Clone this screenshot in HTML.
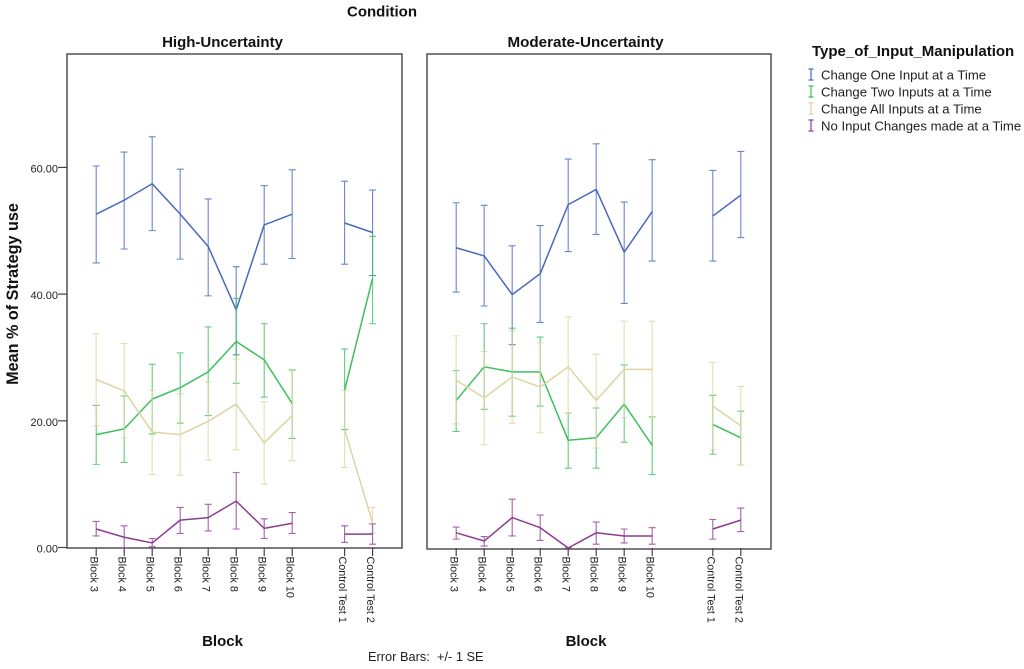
<!DOCTYPE html>
<html lang="en">
<head>
<meta charset="utf-8">
<title>Mean % of Strategy use by Block and Condition</title>
<style>
html,body{margin:0;padding:0;background:#fff;}
svg{display:block;font-family:"Liberation Sans",Arial,sans-serif;}
</style>
</head>
<body>
<svg id="chart" width="1024" height="669" viewBox="0 0 1024 669" xmlns="http://www.w3.org/2000/svg">
  <rect width="1024" height="669" fill="#fff"/>
  <text x="382" y="16.5" font-size="15" font-weight="bold" text-anchor="middle" fill="#111">Condition</text>
  <text x="222.5" y="47" font-size="15" font-weight="bold" text-anchor="middle" fill="#111">High-Uncertainty</text>
  <text x="585.5" y="47" font-size="15.2" font-weight="bold" text-anchor="middle" fill="#111">Moderate-Uncertainty</text>
  <rect x="67" y="54" width="335" height="494" fill="none" stroke="#444" stroke-width="1.4"/>
  <rect x="427" y="54" width="344" height="495" fill="none" stroke="#444" stroke-width="1.4"/>
  <text transform="translate(18,294) rotate(-90)" font-size="16.2" font-weight="bold" text-anchor="middle" fill="#111">Mean % of Strategy use</text>
  <text x="222.5" y="646" font-size="15" font-weight="bold" text-anchor="middle" fill="#111">Block</text>
  <text x="586" y="646" font-size="15" font-weight="bold" text-anchor="middle" fill="#111">Block</text>
  <text x="368" y="661" font-size="12.8" fill="#222" xml:space="preserve">Error Bars:  +/- 1 SE</text>
  <g id="axes"></g>
  <g id="series"></g>
  <g>
    <text x="812" y="56" font-size="15" font-weight="bold" fill="#111">Type_of_Input_Manipulation</text>
    <g id="legend-entries"></g>
  </g>
</svg>
<script>
var categories = ["Block 3","Block 4","Block 5","Block 6","Block 7","Block 8","Block 9","Block 10","Control Test 1","Control Test 2"];
var yTickValues = [0, 20, 40, 60];
var seriesNames = ["Change One Input at a Time","Change Two Inputs at a Time","Change All Inputs at a Time","No Input Changes made at a Time"];

var highOneMean = [52.7,54.9,57.5,52.7,47.6,37.6,51.0,52.7,51.3,49.8];
var highOneUpper = [60.3,62.5,64.9,59.8,55.1,44.4,57.2,59.7,57.9,56.5];
var highOneLower = [45.0,47.2,50.1,45.6,39.8,30.5,44.8,45.7,44.8,43.0];
var highTwoMean = [17.9,18.8,23.5,25.3,27.8,32.6,29.7,22.8,24.9,42.6];
var highTwoUpper = [22.5,24.0,29.0,30.8,34.9,39.4,35.4,28.1,31.4,49.2];
var highTwoLower = [13.2,13.5,18.0,19.7,20.9,26.0,23.8,17.3,18.7,35.4];
var highAllMean = [26.6,24.8,18.3,17.9,20.0,22.7,16.6,20.9,18.7,4.0];
var highAllUpper = [33.8,32.3,24.9,24.3,26.2,29.8,23.1,28.0,24.9,6.4];
var highAllLower = [19.3,17.4,11.6,11.5,13.9,15.5,10.1,13.8,12.7,2.4];
var highNoneMean = [3.0,1.7,0.8,4.4,4.8,7.4,3.1,3.9,2.2,2.2];
var highNoneUpper = [4.2,3.5,1.5,6.4,6.9,11.9,4.6,5.6,3.5,3.8];
var highNoneLower = [1.9,0.0,0.2,2.3,2.7,3.0,1.5,2.3,0.9,0.6];

var modOneMean = [47.4,46.1,40.0,43.3,54.2,56.6,46.7,53.1,52.4,55.7];
var modOneUpper = [54.5,54.1,47.7,50.9,61.4,63.8,54.6,61.3,59.6,62.6];
var modOneLower = [40.4,38.2,32.1,35.6,46.8,49.5,38.6,45.3,45.3,49.0];
var modTwoMean = [23.3,28.6,27.8,27.8,17.0,17.4,22.7,16.2,19.5,17.4];
var modTwoUpper = [28.0,35.4,34.7,33.3,21.3,22.1,28.9,20.7,24.1,21.6];
var modTwoLower = [18.4,21.9,20.8,22.4,12.6,12.6,16.7,11.6,14.8,13.1];
var modAllMean = [26.5,23.7,27.0,25.4,28.6,23.3,28.2,28.2,22.4,19.3];
var modAllUpper = [33.5,31.0,34.3,32.4,36.5,30.6,35.8,35.8,29.3,25.5];
var modAllLower = [19.6,16.3,19.7,18.2,21.3,15.8,20.6,20.6,15.5,13.1];
var modNoneMean = [2.4,1.1,4.8,3.2,0.0,2.4,1.9,1.9,3.0,4.4];
var modNoneUpper = [3.3,1.8,7.7,5.2,0.0,4.1,3.0,3.2,4.5,6.3];
var modNoneLower = [1.4,0.3,1.9,1.2,0.0,0.6,0.8,0.6,1.4,2.6];

var SVG_NS = "http://www.w3.org/2000/svg";
var seriesColors = ["#4a68bd","#3cc05c","#dcd5a2","#8c3d90"];
var seriesSlugs = ["one-input","two-inputs","all-inputs","no-input"];

function yScale(v) { return 548 - v * 6.335; }
function xScale(panel, i) { return panel.x0 + i * 28 + (i >= 8 ? panel.gap : 0); }

function make(tag, attrs, parent) {
  var el = document.createElementNS(SVG_NS, tag);
  for (var k in attrs) el.setAttribute(k, attrs[k]);
  parent.appendChild(el);
  return el;
}

var panels = [
  { slug: "high", x0: 96.2, gap: 24.4, data: [
    [highOneMean, highOneUpper, highOneLower],
    [highTwoMean, highTwoUpper, highTwoLower],
    [highAllMean, highAllUpper, highAllLower],
    [highNoneMean, highNoneUpper, highNoneLower]] },
  { slug: "moderate", x0: 456.2, gap: 32.6, data: [
    [modOneMean, modOneUpper, modOneLower],
    [modTwoMean, modTwoUpper, modTwoLower],
    [modAllMean, modAllUpper, modAllLower],
    [modNoneMean, modNoneUpper, modNoneLower]] }
];

var axesLayer = document.getElementById("axes");
var seriesLayer = document.getElementById("series");
var legendLayer = document.getElementById("legend-entries");

yTickValues.forEach(function (v) {
  var tick = make("line", { x1: 58, x2: 67, y1: yScale(v) - 0.5, y2: yScale(v) - 0.5, stroke: "#444", "stroke-width": 1.2 }, axesLayer);
  
  
  var label = make("text", { x: 58, y: yScale(v) + 4.5, "font-size": 11, "text-anchor": "end", fill: "#222" }, axesLayer);
  
  
  label.textContent = v.toFixed(2);
});

panels.forEach(function (panel) {
  categories.forEach(function (cat, i) {
    var x = xScale(panel, i);
    var tick = make("line", { x1: x, x2: x, y1: 548, y2: 556, stroke: "#444", "stroke-width": 1.2 }, axesLayer);
    
    
    var label = make("text", { transform: "translate(" + (x - 5.5) + ",556.5) rotate(90)", "font-size": 10.8, fill: "#222" }, axesLayer);
    
    
    label.textContent = cat;
  });

  panel.data.forEach(function (d, s) {
    var group = make("g", {}, seriesLayer);
    
    
    var color = seriesColors[s];
    var mean = d[0], upper = d[1], lower = d[2];
    categories.forEach(function (cat, i) {
      var x = xScale(panel, i);
      var yu = yScale(upper[i]);
      var yl = yScale(lower[i]);
      var bar = make("path", {
        d: "M" + (x - 3.5) + " " + yu + "H" + (x + 3.5) + "M" + x + " " + yu + "V" + yl + "M" + (x - 3.5) + " " + yl + "H" + (x + 3.5),
        fill: "none", stroke: color, "stroke-width": 1.1, "stroke-opacity": 0.8
      }, group);
      
      
    });
    [[0, 8], [8, 10]].forEach(function (range) {
      var pts = [];
      for (var i = range[0]; i < range[1]; i++) pts.push(xScale(panel, i) + "," + yScale(mean[i]));
      var line = make("polyline", { points: pts.join(" "), fill: "none", stroke: color, "stroke-width": 1.5, "stroke-linejoin": "round" }, group);
      
      
    });
  });
});

seriesNames.forEach(function (name, s) {
  var y = [75, 92, 109, 126][s];
  var icon = make("path", {
    d: "M808.5 " + (y - 6) + "H813.5M811 " + (y - 6) + "V" + (y + 5) + "M808.5 " + (y + 5) + "H813.5",
    fill: "none", stroke: seriesColors[s], "stroke-width": 1.2
  }, legendLayer);
  
  
  var label = make("text", { x: 821, y: y + 4.5, "font-size": 13.15, fill: "#222" }, legendLayer);
  
  
  label.textContent = name;
});
</script>
</body>
</html>
